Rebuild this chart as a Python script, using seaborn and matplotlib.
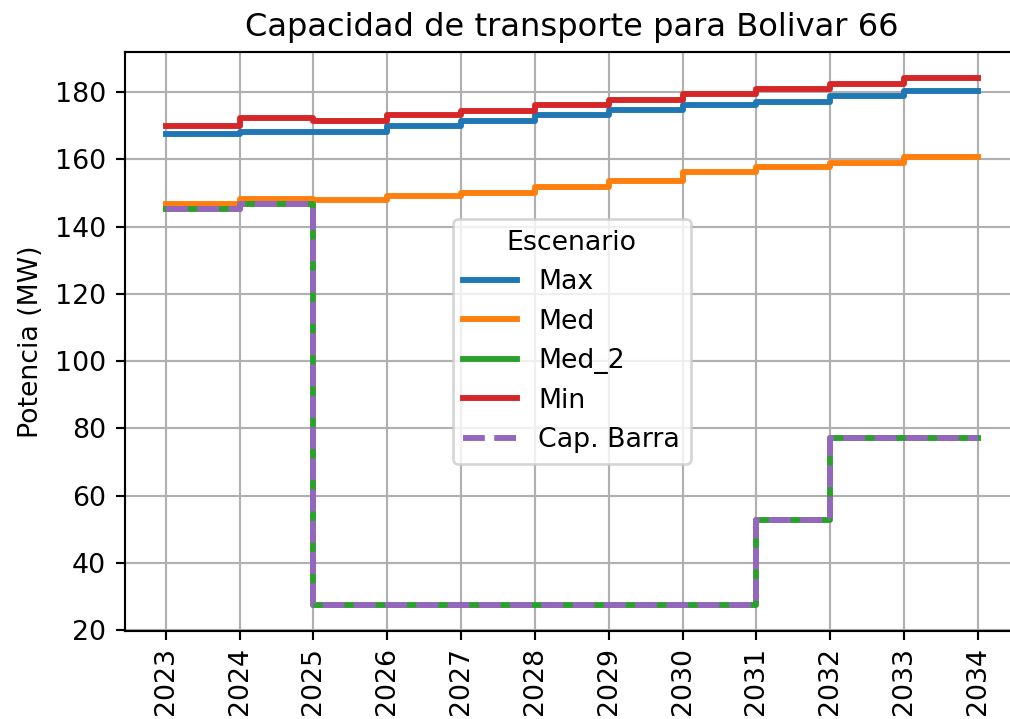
import numpy as np
import pandas as pd
import seaborn as sns
import matplotlib.pyplot as plt

years = [2023, 2024, 2025, 2026, 2027, 2028, 2029, 2030, 2031, 2032, 2033, 2034]

max_vals = [167.5, 168.2, 168.2, 169.8, 171.3, 173.1, 174.6, 176.2, 177.0, 178.7, 180.2, 180.2]
med_vals = [146.8, 148.2, 147.8, 149.2, 150.0, 151.8, 153.7, 156.1, 157.6, 158.9, 160.8, 160.8]
min_vals = [169.8, 172.3, 171.3, 173.1, 174.4, 176.2, 177.7, 179.3, 181.0, 182.5, 184.1, 184.1]
cap_barra = [145.3, 146.8, 27.6, 27.6, 27.6, 27.6, 27.6, 27.6, 52.8, 77.3, 77.3, 77.3]
med2_vals = list(cap_barra)

scenarios = {"Max": max_vals, "Med": med_vals, "Med_2": med2_vals, "Min": min_vals}

### Build long dataframe
rows = []
for name, vals in scenarios.items():
    for y, v in zip(years, vals):
        rows.append({"Año": y, "Potencia": v, "Escenario": name})
df = pd.DataFrame(rows)
df_cap = pd.DataFrame({"Año": years, "Potencia": cap_barra})

dpi = 193
fig = plt.figure(figsize=(1010 / dpi, 719 / dpi), dpi=dpi)
ax = fig.add_axes([0.1238, 0.1224, 0.8847, 0.8053])

sns.lineplot(data=df, x="Año", y="Potencia", hue="Escenario",
             palette=["tab:blue", "tab:orange", "tab:green", "tab:red"],
             drawstyle="steps-post", linewidth=2.2, ax=ax)
sns.lineplot(data=df_cap, x="Año", y="Potencia", color="tab:purple",
             linestyle="--", drawstyle="steps-post", linewidth=2.2,
             label="Cap. Barra", ax=ax)

ax.set_xticks(years)
ax.set_xticklabels([str(y) for y in years], rotation=90)
ax.tick_params(axis="x", pad=2.5)
ax.set_xlabel("")
ax.set_ylabel("Potencia (MW)")
ax.set_title("Capacidad de transporte para Bolivar 66", fontsize=12)
ax.grid(True)
ax.legend(title="Escenario", loc="center")

fig.savefig("out.png", dpi=dpi)
